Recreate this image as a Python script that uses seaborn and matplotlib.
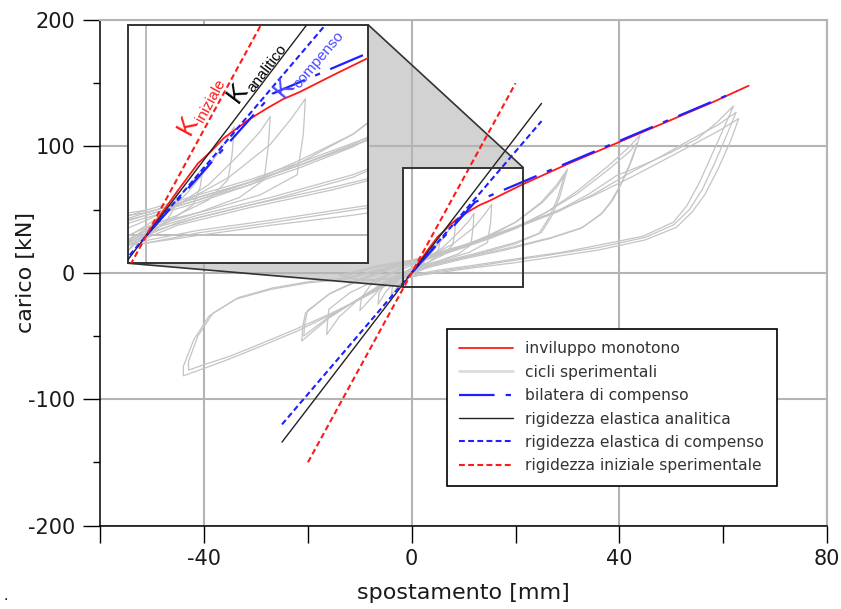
import numpy as np
import pandas as pd
import matplotlib
matplotlib.use("Agg")
import matplotlib.pyplot as plt
from matplotlib.lines import Line2D
from matplotlib.patches import Polygon, Rectangle
from matplotlib.transforms import offset_copy
import seaborn as sns

# ---------------------------------------------------------------- data
# monotonic envelope (spostamento mm, carico kN)
env_x = [0, 1, 3, 5, 6.2, 7.5, 8.8, 10, 11.7, 13.2, 14.9, 18.1, 21.4, 30, 40, 50, 58, 64.9]
env_y = [0, 6, 17.5, 28.5, 33, 38.5, 42.4, 46, 50.3, 53.8, 56.8, 63.4, 70, 86, 103.5, 121, 135, 148]

# equivalent bilinear
bil_x = [0, 12.2, 62.6]
bil_y = [0, 56.0, 143.6]

# stiffness lines
k_an_x = [-25, 25]
k_an_y = [-134, 134]
k_comp_x = [-25, 25]
k_comp_y = [-120, 120]
k_in_x = [-20, 20]
k_in_y = [-150, 150]

# experimental cycles
c1_x = [0, 1, 2, 3, 2.7, 2, 0.5, -1, -2, -1.8, -1, 0]
c1_y = [0, 6, 12, 17, 11, 6, 1, -5, -11, -6, -2, 1]
c2_x = [0, 2, 4, 5.5, 5.2, 4.5, 2, 0, -2, -4, -3.7, -2.5, 0]
c2_y = [1, 10, 19, 27, 19, 12, 5, 1, -7, -18, -11, -5, 2]
c3_x = [0, 2, 4, 6, 7.5, 8.5, 8.3, 7.9, 6, 3, 0, -3, -5, -6.5, -6.3, -5, -2, 0]
c3_y = [2, 9, 17, 27, 36, 43, 32, 22, 14, 8, 3, -6, -15, -25, -16, -8, -1, 4]
c4_x = [0, 3, 6, 9, 11, 12, 11.8, 11.4, 9, 5, 1, -2, -6, -10, -9.7, -8, -4, 0]
c4_y = [4, 12, 20, 32, 41, 47, 35, 22, 15, 9, 4, -2, -12, -30, -20, -10, -1, 6]
c5_x = [0, 4, 8, 12, 14, 15.4, 15.2, 14.6, 11, 6, 1, -4, -10, -14, -16.4, -16.2, -16, -12, -6, -1.6, 0]
c5_y = [6, 14, 23, 36, 46, 54, 40, 24, 16, 10, 5, -4, -20, -35, -49, -38, -29, -16, -4, 5, 7]
c6_x = [0, 5, 10, 15, 20, 25, 28, 30, 28.5, 27, 25, 20, 12, 5, 0, -5, -10, -16, -21.2, -21, -20.5, -16, -10, -4, 0]
c6_y = [7, 13, 20, 29, 40, 56, 70, 82, 60, 45, 32, 24, 15, 8, 2, -8, -20, -36, -54, -43, -32, -17, -6, 3, 8]
c6b_x = [0, 5, 10, 15, 20, 25, 28, 29.5, 28, 26.5, 24.5, 20, 12, 5, 0, -5, -10, -16, -20.8, -20.6, -20.1, -15.6,
         -10, -4, 0]
c6b_y = [8, 14, 21, 30, 40, 55, 68, 78, 58, 44, 31, 23, 14, 7, 1, -9, -20, -35, -50, -40, -30, -16, -5, 4, 8]
c7_x = [0, 5, 10, 15, 20, 26, 32, 38, 42, 44, 42.5, 40.8, 38.8, 36.9, 33, 27, 18, 10, 3, -3, -10, -16, -22,
        -29, -35.6, -40, -44, -44, -42, -39, -34, -27, -20, -12.5, -6, -1.6, 0]
c7_y = [8, 14, 20, 27, 35, 48, 65, 85, 100, 109, 90, 74, 58, 48, 36, 28, 19, 12, 5, -5, -21, -34, -46,
        -58, -69, -75.6, -81.5, -74, -53, -34, -21, -13, -8, -5, 2, 7, 9]
c7b_x = [0, 5, 10, 15, 20, 26, 32, 38, 42, 43.5, 42, 40.3, 38.3, 36.4, 32.5, 26.5, 18, 10, 3, -3, -10, -16, -22,
         -29, -35, -39.5, -43, -43, -41.2, -38.3, -33.3, -26.8, -19.8, -12.5, -6, -1.6, 0]
c7b_y = [9, 15, 21, 28, 36, 48, 63, 82, 96, 103, 86, 70, 56, 46, 35, 27, 18, 11, 4, -6, -21, -33, -44,
         -56, -66, -72, -77, -70, -50, -32, -19.5, -12, -7, -4, 3, 8, 10]
c8_x = [0, 5, 10, 15, 21, 28.6, 34, 39.5, 45, 49.8, 55, 58.8, 62, 60.5, 58, 55.5, 53, 50.4, 44.6, 35, 28.6,
        20, 12, 5, 0, -5, -10, -13, -10, -6, -1.6, 0]
c8_y = [9, 15, 21, 28, 37, 50, 62, 77, 86, 95, 106, 119, 132, 118, 95, 72, 53, 40, 29, 21, 16,
        11, 6, 2, -2, -5, -6, -3, 1, 5, 8, 9]
c9_x = [0, 5, 10, 15, 21, 28, 35, 42, 48, 54, 59, 62.5, 61, 58.5, 56, 53.5, 50.5, 45, 36, 28, 20, 12, 5, 0,
        -5, -10, -14, -10, -6, -1.6, 0]
c9_y = [9, 15, 21, 28, 37, 48, 62, 79, 92, 106, 117, 127, 112, 88, 66, 50, 38, 28, 20, 15, 10, 5, 1, -3,
        -5, -6, -2, 2, 6, 9, 10]
c10_x = [0, 5, 10, 15, 21, 28, 35, 42, 48, 54, 59, 63, 61.5, 59, 56.5, 54, 51, 45, 36, 28, 20, 12, 5, 0, -5, -10]
c10_y = [10, 16, 22, 29, 38, 49, 61, 75, 88, 101, 112, 122, 105, 82, 62, 48, 36, 26, 18, 13, 8, 4, 0, -3, -5, -6]

cicli = [(c1_x, c1_y), (c2_x, c2_y), (c3_x, c3_y), (c4_x, c4_y), (c5_x, c5_y),
         (c6_x, c6_y), (c6b_x, c6b_y), (c7_x, c7_y), (c7b_x, c7b_y),
         (c8_x, c8_y), (c9_x, c9_y), (c10_x, c10_y)]
cicli_df = pd.concat(
    [pd.DataFrame({"x": cx, "y": cy, "ciclo": i}) for i, (cx, cy) in enumerate(cicli)],
    ignore_index=True)

# zoomed window
zoom_x = [-1.75, 21.5]
zoom_y = [-11.0, 83.2]

# ---------------------------------------------------------------- style
sns.set_theme(style="white")
plt.rcParams["font.family"] = ["DejaVu Sans"]
plt.rcParams["axes.axisbelow"] = True
plt.rcParams["axes.unicode_minus"] = False

RED = "#ff1a1a"
BLUE = "#1f1fff"
LBLUE = "#4a4aff"
GREY = "#c4c4c4"
GRID = "#b4b4b4"
TXT = "#1a1a1a"

DASH = (0, (2.8, 1.6))
BIL_DASH = (0, (16, 5, 2.4, 5))

fig = plt.figure(figsize=(8.41, 6.09), dpi=100)
ax = fig.add_axes([0.1193, 0.1371, 0.864, 0.830])
axins = fig.add_axes([0.1526, 0.5677, 0.2854, 0.3913])


def draw_curves(a):
    sns.lineplot(data=cicli_df, x="x", y="y", units="ciclo", estimator=None, sort=False,
                 color=GREY, lw=0.9, ax=a, legend=False, zorder=2)
    sns.lineplot(x=env_x, y=env_y, estimator=None, sort=False, color=RED, lw=1.3, ax=a, zorder=3)
    sns.lineplot(x=bil_x, y=bil_y, estimator=None, sort=False, color=BLUE, lw=1.6,
                 linestyle=BIL_DASH, ax=a, zorder=4)
    sns.lineplot(x=k_an_x, y=k_an_y, estimator=None, sort=False, color="#222222", lw=1.0, ax=a, zorder=4)
    sns.lineplot(x=k_comp_x, y=k_comp_y, estimator=None, sort=False, color=BLUE, lw=1.5,
                 linestyle=DASH, ax=a, zorder=4)
    sns.lineplot(x=k_in_x, y=k_in_y, estimator=None, sort=False, color=RED, lw=1.5,
                 linestyle=DASH, ax=a, zorder=4)


# ---------------------------------------------------------------- main axes
draw_curves(ax)
ax.set_xlim(-60, 80)
ax.set_ylim(-200, 200)
ax.set_xticks([-40, 0, 40, 80])
ax.set_xticks([-60, -20, 20, 60], minor=True)
ax.set_yticks([-200, -100, 0, 100, 200])
ax.set_yticks([-150, -50, 50, 150], minor=True)
ax.grid(True, which="major", color=GRID, lw=1.5)
ax.tick_params(axis="x", which="both", direction="out", length=12, width=1.0, color="black",
               bottom=True, labelsize=15, labelcolor=TXT, pad=5)
ax.tick_params(axis="y", which="major", direction="out", length=12, width=1.0, color="black",
               left=True, labelsize=15, labelcolor=TXT, pad=6)
ax.tick_params(axis="y", which="minor", direction="out", length=5, width=1.0, color="black", left=True)
for s in ("left", "bottom"):
    ax.spines[s].set_color("black")
    ax.spines[s].set_linewidth(1.1)
for s in ("top", "right"):
    ax.spines[s].set_color(GRID)
    ax.spines[s].set_linewidth(1.5)
ax.set_xlabel("spostamento [mm]", fontsize=16, color=TXT, labelpad=10)
ax.set_ylabel("carico [kN]", fontsize=16, color=TXT)
ax.yaxis.set_label_coords(-0.089, 0.5)

# zoom rectangle
ax.add_patch(Rectangle((zoom_x[0], zoom_y[0]), zoom_x[1] - zoom_x[0], zoom_y[1] - zoom_y[0],
                       fill=False, ec="#333333", lw=1.4, zorder=6))

# ---------------------------------------------------------------- inset
draw_curves(axins)
axins.set_xlim(*zoom_x)
axins.set_ylim(*zoom_y)
axins.set_xticks([0])
axins.set_yticks([0])
axins.grid(True, color=GRID, lw=1.3)
axins.tick_params(length=0, labelbottom=False, labelleft=False)
axins.set_xlabel("")
axins.set_ylabel("")
axins.set_facecolor("white")
for s in axins.spines.values():
    s.set_color("#333333")
    s.set_linewidth(1.4)


def slope_angle(a, xs, ys):
    p = a.transData.transform(np.column_stack([xs, ys]))
    return np.degrees(np.arctan2(p[1, 1] - p[0, 1], p[1, 0] - p[0, 0]))


K_SIZE = 19
SUB_SIZE = 11
K_ADV = 0.667 * K_SIZE     # advance of "K" in points
SUB_DROP = 4.0             # subscript drop in points


def k_label(a, x, y, sub, color, xs, ys):
    ang = slope_angle(a, xs, ys)
    kw = dict(rotation=ang, rotation_mode="anchor", ha="left", va="baseline", color=color,
              family=["Liberation Sans", "DejaVu Sans"], zorder=7)
    a.text(x, y, "K", fontsize=K_SIZE, **kw)
    t = np.radians(ang)
    dx = K_ADV * np.cos(t) + SUB_DROP * np.sin(t)
    dy = K_ADV * np.sin(t) - SUB_DROP * np.cos(t)
    tr = offset_copy(a.transData, fig=fig, x=dx, y=dy, units="points")
    a.text(x, y, sub, fontsize=SUB_SIZE, transform=tr, **kw)


k_label(axins, 4.2, 39.5, "iniziale", RED, k_in_x, k_in_y)
k_label(axins, 8.9, 52.0, "analitico", "black", k_an_x, k_an_y)
k_label(axins, 13.3, 53.8, "compenso", LBLUE, k_comp_x, k_comp_y)

# ---------------------------------------------------------------- connector
to_main = ax.transData.inverted()
ins_tr = to_main.transform(axins.transAxes.transform((1, 1)))
ins_bl = to_main.transform(axins.transAxes.transform((0, 0)))
ins_br = to_main.transform(axins.transAxes.transform((1, 0)))
r_tr = (zoom_x[1], zoom_y[1])
r_tl = (zoom_x[0], zoom_y[1])
r_bl = (zoom_x[0], zoom_y[0])
ax.add_patch(Polygon([ins_tr, r_tr, r_tl, r_bl, ins_bl, ins_br], closed=True,
                     fc="#d2d2d2", ec="none", zorder=0.3))
ax.plot([ins_tr[0], r_tr[0]], [ins_tr[1], r_tr[1]], color="#333333", lw=1.2, zorder=6, clip_on=False)
ax.plot([ins_bl[0], r_bl[0]], [ins_bl[1], r_bl[1]], color="#333333", lw=1.2, zorder=6, clip_on=False)

# ---------------------------------------------------------------- legend
handles = [
    Line2D([], [], color=RED, lw=1.3),
    Line2D([], [], color="#dcdcdc", lw=2.0),
    Line2D([], [], color=BLUE, lw=1.6, linestyle=BIL_DASH),
    Line2D([], [], color="#222222", lw=1.0),
    Line2D([], [], color=BLUE, lw=1.5, linestyle=DASH),
    Line2D([], [], color=RED, lw=1.5, linestyle=DASH),
]
labels = ["inviluppo monotono", "cicli sperimentali", "bilatera di compenso",
          "rigidezza elastica analitica", "rigidezza elastica di compenso",
          "rigidezza iniziale sperimentale"]
leg = ax.legend(handles, labels, loc="upper left", bbox_to_anchor=(0.477, 0.389),
                borderaxespad=0, fontsize=11.2, frameon=True, fancybox=False, shadow=False,
                framealpha=1, edgecolor="black", handlelength=3.45, handletextpad=0.8,
                labelspacing=0.54, borderpad=0.8)
leg.get_frame().set_linewidth(1.2)
for t in leg.get_texts():
    t.set_color("#333333")
leg.set_zorder(8)

fig.text(0.004, 0.015, ".", fontsize=10, color="black")

fig.savefig("out.png", dpi=100)
